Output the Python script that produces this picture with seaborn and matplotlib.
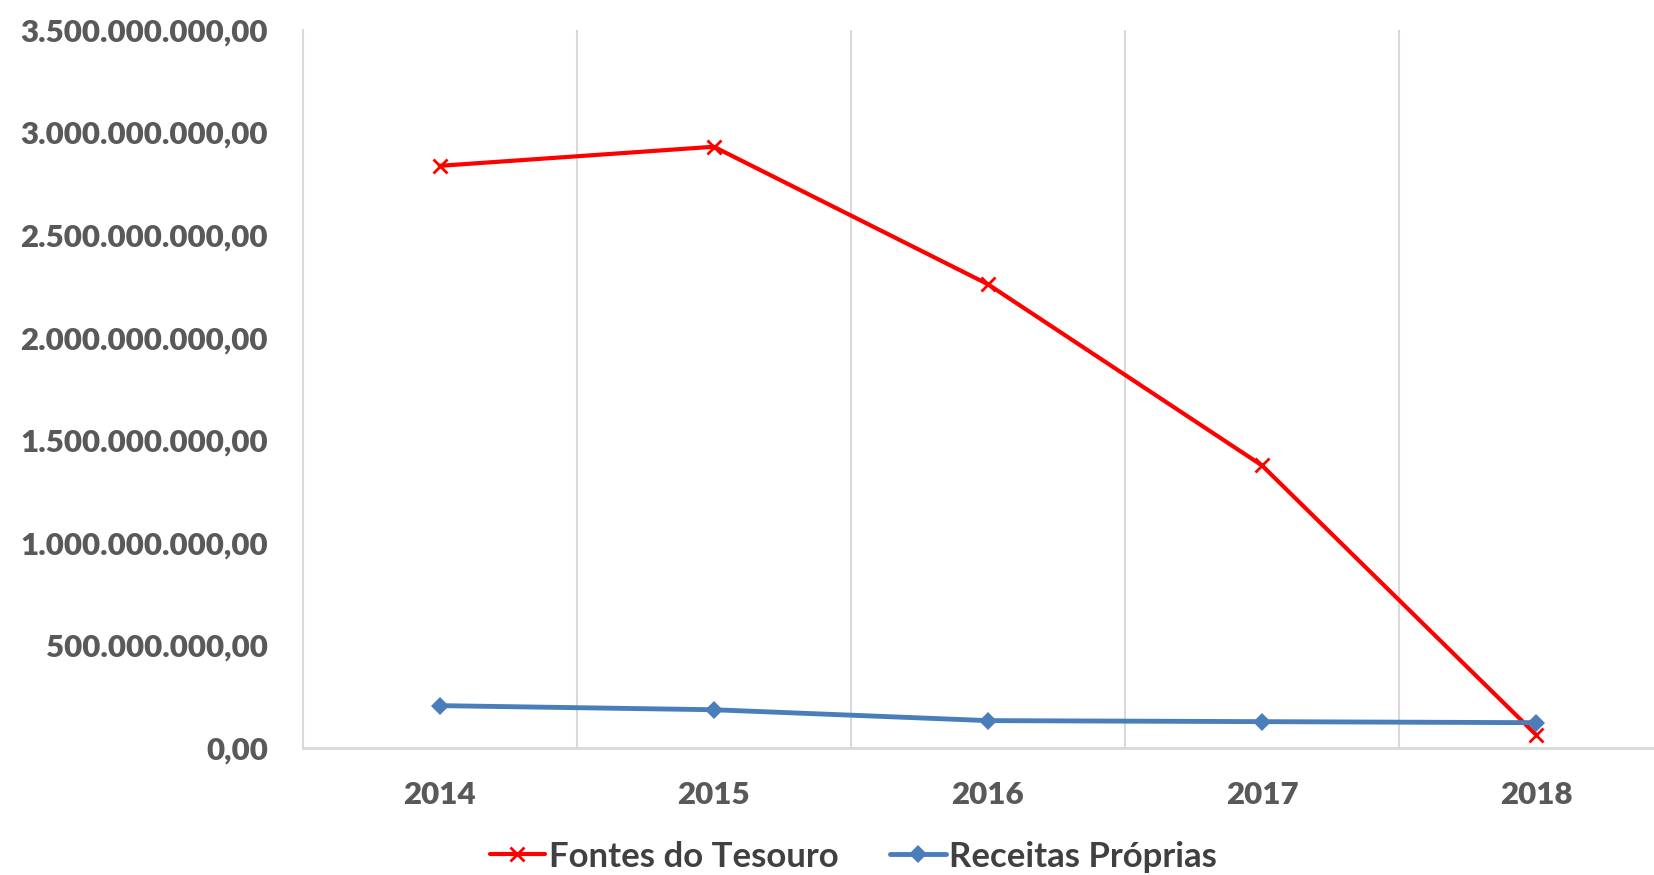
import matplotlib
matplotlib.use("Agg")
import matplotlib.pyplot as plt
import seaborn as sns
import pandas as pd
from matplotlib.ticker import FuncFormatter, FixedLocator

anos = ["2014", "2015", "2016", "2017", "2018"]
fontes_tesouro = [2.837e9, 2.93e9, 2.26e9, 1.377e9, 0.065e9]
receitas_proprias = [2.07e8, 1.87e8, 1.34e8, 1.29e8, 1.24e8]
y_ticks = [0, 5e8, 1e9, 1.5e9, 2e9, 2.5e9, 3e9, 3.5e9]

sns.set_theme(style="white")
plt.rcParams['font.family'] = ['Lato', 'DejaVu Sans']

df = pd.DataFrame({
    "ano": anos * 2,
    "valor": fontes_tesouro + receitas_proprias,
    "serie": ["Fontes do Tesouro"] * 5 + ["Receitas Próprias"] * 5,
})

fig = plt.figure(figsize=(16.54, 8.75), dpi=100)
ax = fig.add_axes([0.183, 0.145, 0.817, 0.821])

sns.lineplot(data=df[df.serie == "Fontes do Tesouro"], x="ano", y="valor",
             color="#FF0000", linewidth=3, marker="x", markersize=10,
             markeredgewidth=2, markeredgecolor="#FF0000",
             label="Fontes do Tesouro", ax=ax)
sns.lineplot(data=df[df.serie == "Receitas Próprias"], x="ano", y="valor",
             color="#4A7EBB", linewidth=3.5, marker="D", markersize=9,
             markeredgewidth=0, markerfacecolor="#4A7EBB",
             label="Receitas Próprias", ax=ax)

ax.set_xlim(-0.5, 4.43)
ax.set_ylim(0, 3.5e9)
ax.set_yticks(y_ticks)


def br_fmt(v, pos):
    s = f"{v:,.2f}"
    return s.replace(",", "X").replace(".", ",").replace("X", ".")


ax.yaxis.set_major_formatter(FuncFormatter(br_fmt))
ax.xaxis.set_minor_locator(FixedLocator([0.5, 1.5, 2.5, 3.5]))
ax.grid(which="minor", axis="x", color="#D9D9D9", linewidth=1.5)
ax.grid(which="major", visible=False)
ax.set_xlabel("")
ax.set_ylabel("")

for side in ["top", "right"]:
    ax.spines[side].set_visible(False)
ax.spines["left"].set_color("#D9D9D9")
ax.spines["left"].set_linewidth(1.5)
ax.spines["bottom"].set_color("#D9D9D9")
ax.spines["bottom"].set_linewidth(2)

ax.tick_params(axis="both", which="both", length=0, labelsize=22.5,
               labelcolor="#595959")
ax.tick_params(axis="y", pad=25)
ax.tick_params(axis="x", pad=24)
for lbl in ax.get_xticklabels() + ax.get_yticklabels():
    lbl.set_fontweight("heavy")

handles, labels = ax.get_legend_handles_labels()
ax.get_legend().remove()
leg = fig.legend(handles, labels, loc="center", bbox_to_anchor=(0.516, 0.021),
                 ncol=2, frameon=False, handlelength=1.6,
                 handletextpad=0.1, columnspacing=1.5,
                 prop={"weight": "bold", "size": 25})
for t in leg.get_texts():
    t.set_color("#404040")

fig.savefig("out.png", dpi=100)
